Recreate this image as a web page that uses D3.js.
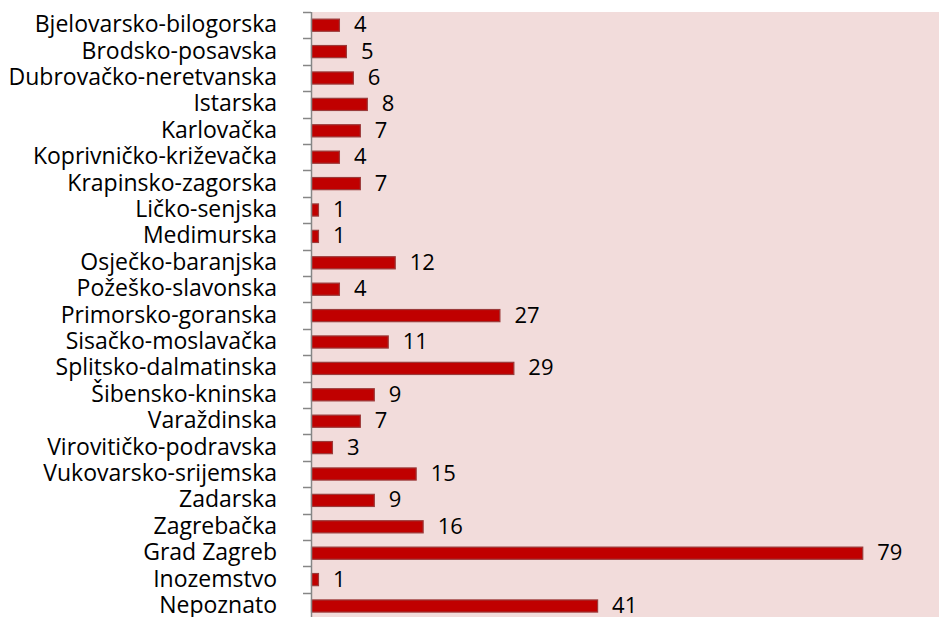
<!DOCTYPE html>
<html>
<head>
<meta charset="utf-8">
<script src="https://cdn.jsdelivr.net/npm/d3@7"></script>
<style>
  body { margin: 0; background: #ffffff; }
  svg text { font-family: "Open Sans", sans-serif; fill: #000; }
</style>
</head>
<body>
<div id="chart"></div>
<script>
// Counties and counts.
var counties = ["Bjelovarsko-bilogorska", "Brodsko-posavska", "Dubrovačko-neretvanska",
  "Istarska", "Karlovačka", "Koprivničko-križevačka", "Krapinsko-zagorska",
  "Ličko-senjska", "Medimurska", "Osječko-baranjska", "Požeško-slavonska",
  "Primorsko-goranska", "Sisačko-moslavačka", "Splitsko-dalmatinska",
  "Šibensko-kninska", "Varaždinska", "Virovitičko-podravska",
  "Vukovarsko-srijemska", "Zadarska", "Zagrebačka", "Grad Zagreb",
  "Inozemstvo", "Nepoznato"];
var counts = [4, 5, 6, 8, 7, 4, 7, 1, 1, 12, 4, 27, 11, 29, 9, 7, 3, 15, 9, 16, 79, 1, 41];

var width = 939, height = 617;
var margin = { top: 12, left: 311 };
var plotW = width - margin.left;
var plotH = 23 * 26.4;

var svg = d3.select('#chart').append('svg')
  .attr('width', width)
  .attr('height', height);

var g = svg.append('g')
  .attr('transform', 'translate(' + margin.left + ',' + margin.top + ')');

var x = d3.scaleLinear().domain([0, 90]).range([0, plotW]);
var y = d3.scaleBand().domain(counties).range([0, plotH]).paddingInner(0.54).paddingOuter(0.27);

// plot area background
g.append('rect')
  .attr('width', plotW)
  .attr('height', plotH)
  .attr('fill', '#f2dcdb');

var data = counties.map(function (c, i) { return { name: c, value: counts[i] }; });

g.selectAll('.bar')
  .data(data)
  .enter()
  .append('rect')
  .attr('class', 'bar')
  .attr('x', 0.5)
  .attr('y', function (d) { return y(d.name); })
  .attr('width', function (d) { return x(d.value); })
  .attr('height', y.bandwidth())
  .attr('fill', '#c00000')
  .attr('stroke', '#9b3a3a')
  .attr('stroke-width', 1.2);

g.selectAll('.val')
  .data(data)
  .enter()
  .append('text')
  .attr('class', 'val')
  .attr('x', function (d) { return x(d.value) + 15; })
  .attr('y', function (d) { return y(d.name) + y.bandwidth() / 2 + 7; })
  .attr('font-size', 22)
  .text(function (d) { return d.value; });

// category axis: ticks at band boundaries
var step = plotH / counties.length;
var tickYs = d3.range(counties.length + 1).map(function (i) { return i * step; });

g.selectAll('.tick')
  .data(tickYs)
  .enter()
  .append('line')
  .attr('x1', -8).attr('x2', 0)
  .attr('y1', function (d) { return Math.round(d) + 0.5; })
  .attr('y2', function (d) { return Math.round(d) + 0.5; })
  .attr('stroke', '#868686')
  .attr('stroke-width', 1.5);

g.append('line')
  .attr('x1', 0.5).attr('x2', 0.5)
  .attr('y1', 0).attr('y2', plotH)
  .attr('stroke', '#868686')
  .attr('stroke-width', 1.5);

g.selectAll('.lab')
  .data(counties)
  .enter()
  .append('text')
  .attr('class', 'lab')
  .attr('x', -34)
  .attr('y', function (d) { return y(d) + y.bandwidth() / 2 + 7; })
  .attr('text-anchor', 'end')
  .attr('font-size', 23)
  .text(function (d) { return d; });
</script>
</body>
</html>
